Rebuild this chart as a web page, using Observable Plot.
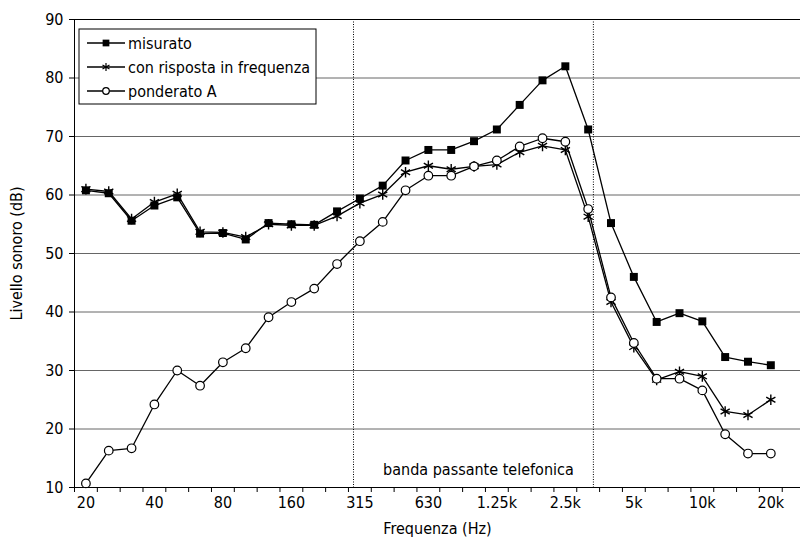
<!DOCTYPE html>
<html><head><meta charset="utf-8">
<script src="https://cdn.jsdelivr.net/npm/d3@7"></script>
<script src="https://cdn.jsdelivr.net/npm/@observablehq/plot@0.6"></script>
<style>
body{margin:0;background:#fff}
#chart svg{font-family:"DejaVu Sans Condensed","DejaVu Sans",sans-serif;font-stretch:condensed}
</style>
</head><body><div id="chart"></div>
<script>
// Third-octave bands (Hz)
const bands = ["20","25","31.5","40","50","63","80","100","125","160","200","250","315","400","500","630","800","1k","1.25k","1.6k","2k","2.5k","3.15k","4k","5k","6.3k","8k","10k","12.5k","16k","20k"];
const tickLabels = ["20","40","80","160","315","630","1.25k","2.5k","5k","10k","20k"];
const seriesNames = ["misurato","con risposta in frequenza","ponderato A"];
const misurato = [60.8,60.3,55.6,58.2,59.6,53.4,53.5,52.4,55.2,55.0,54.9,57.2,59.4,61.6,65.9,67.7,67.7,69.2,71.2,75.4,79.6,82.0,71.2,55.2,46.0,38.3,39.8,38.4,32.3,31.5,30.9];
const risposta = [61.0,60.6,55.9,58.8,60.2,53.7,53.6,52.8,55.0,54.8,54.8,56.4,58.6,60.1,63.9,65.0,64.4,64.9,65.2,67.3,68.4,67.7,56.3,41.7,34.0,28.4,29.8,29.0,23.0,22.4,25.0];
const ponderatoA = [10.7,16.3,16.7,24.2,30.0,27.4,31.4,33.8,39.1,41.7,44.0,48.2,52.1,55.4,60.8,63.3,63.3,64.9,65.9,68.3,69.7,69.1,57.6,42.5,34.7,28.6,28.6,26.6,19.1,15.8,15.8];
const telefonoHz = [300, 3400];
const bandaLabel = "banda passante telefonica";
const yTicks = [10,20,30,40,50,60,70,80,90];

const idxOfHz = f => 3 * Math.log2(f / 20);
const seriesValues = [misurato, risposta, ponderatoA];
const data = [];
seriesNames.forEach((s, k) => seriesValues[k].forEach((v, i) => data.push({series: s, i, band: bands[i], v})));
const labelIdx = tickLabels.map(l => bands.indexOf(l));
const edges = d3.range(-0.5, bands.length, 1);
const limits = telefonoHz.map(idxOfHz);

const chart = Plot.plot({
  width: 800, height: 539,
  marginLeft: 74, marginRight: 0, marginTop: 19, marginBottom: 52,
  style: {fontSize: "16px", color: "#000", background: "#fff"},
  x: {type: "linear", domain: [-0.5, 31.3]},
  y: {domain: [10, 90]},
  marks: [
    Plot.ruleY(yTicks.filter(t => t > 10 && t < 90), {stroke: "#666", strokeWidth: 1}),
    Plot.ruleY([90], {stroke: "#000"}),
    Plot.ruleX(limits, {stroke: "#000", strokeDasharray: "1,1.5", strokeWidth: 1}),
    Plot.text([bandaLabel], {x: d3.mean(limits), frameAnchor: "bottom", dy: -13, dx: 5, text: d => d, fontSize: 16}),
    Plot.line(data, {x: "i", y: "v", z: "series", stroke: "#000", strokeWidth: 1.3}),
    Plot.dot(data.filter(d => d.series === seriesNames[0]), {x: "i", y: "v", symbol: "square", r: 4.5, fill: "#000"}),
    Plot.dot(data.filter(d => d.series === seriesNames[1]), {x: "i", y: "v", symbol: "asterisk", r: 5, stroke: "#000", strokeWidth: 1.4}),
    Plot.dot(data.filter(d => d.series === seriesNames[2]), {x: "i", y: "v", symbol: "circle", r: 4.3, fill: "#fff", stroke: "#000", strokeWidth: 1.2}),
    Plot.ruleX([-0.5], {stroke: "#000"}),
    Plot.ruleY([10], {stroke: "#000"}),
    Plot.axisY({ticks: yTicks, tickSize: 5, tickPadding: 6, label: "Livello sonoro (dB)", labelAnchor: "center", labelArrow: "none", labelOffset: 64}),
    Plot.axisX({ticks: edges, tickSize: 5, tickFormat: () => "", label: null}),
    Plot.axisX({ticks: labelIdx, tickSize: 0, tickPadding: 9, tickFormat: i => bands[i], label: null}),
    Plot.axisX({ticks: [], label: "Frequenza (Hz)", labelAnchor: "center", labelArrow: "none", labelOffset: 46, dx: -4})
  ]
});

// Legend (inside the plot area, top-left)
const svg = d3.select(chart);
const lg = svg.append("g").attr("transform", "translate(79,29)");
lg.append("rect").attr("width", 237).attr("height", 75).attr("fill", "#fff").attr("stroke", "#000");
const syms = [
  {type: d3.symbolSquare, fill: "#000", stroke: "none"},
  {type: d3.symbolAsterisk, fill: "none", stroke: "#000"},
  {type: d3.symbolCircle, fill: "#fff", stroke: "#000"}
];
seriesNames.forEach((s, k) => {
  const row = lg.append("g").attr("transform", `translate(0,${14 + k * 24})`);
  row.append("line").attr("x1", 8).attr("x2", 46).attr("stroke", "#000").attr("stroke-width", 1.3);
  const size = k === 2 ? Math.PI * 3.3 * 3.3 : Math.PI * 3.8 * 3.8;
  row.append("path").attr("transform", "translate(27,0)").attr("d", d3.symbol(syms[k].type, size)())
    .attr("fill", syms[k].fill).attr("stroke", syms[k].stroke).attr("stroke-width", 1.2);
  row.append("text").attr("x", 49).attr("dy", "0.35em").attr("font-size", 16).attr("text-anchor", "start").text(s);
});

document.getElementById("chart").append(chart);
</script>
</body></html>
